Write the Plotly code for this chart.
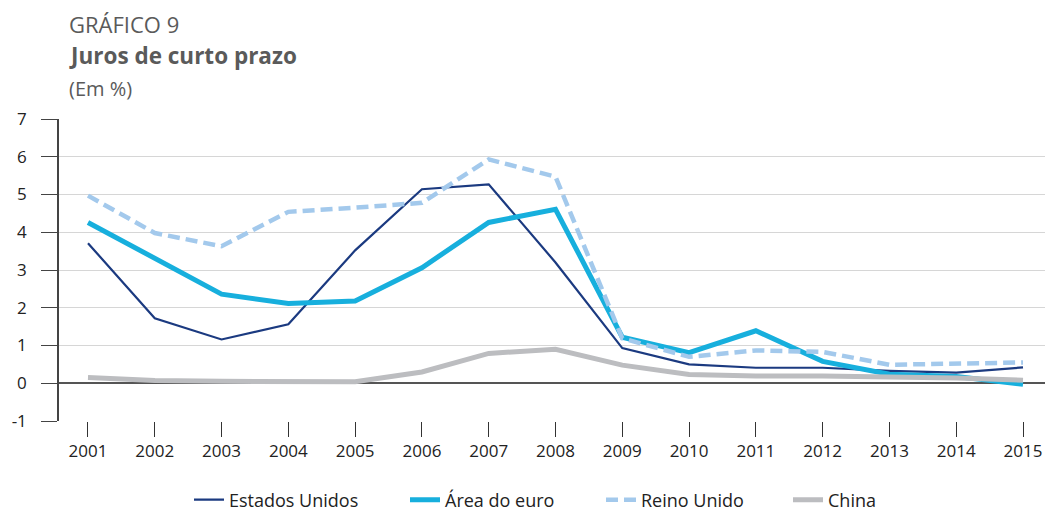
import plotly.graph_objects as go

years = list(range(2001, 2016))
estados_unidos = [3.71, 1.72, 1.16, 1.56, 3.52, 5.14, 5.27, 3.2, 0.93, 0.50, 0.41, 0.41, 0.33, 0.28, 0.42]
area_euro = [4.26, 3.32, 2.36, 2.11, 2.18, 3.06, 4.26, 4.61, 1.22, 0.81, 1.39, 0.58, 0.24, 0.18, -0.03]
reino_unido = [4.97, 3.98, 3.63, 4.54, 4.65, 4.78, 5.93, 5.47, 1.19, 0.70, 0.87, 0.83, 0.49, 0.52, 0.55]
china = [0.15, 0.07, 0.05, 0.04, 0.04, 0.30, 0.79, 0.90, 0.48, 0.23, 0.19, 0.19, 0.17, 0.14, 0.08]
y_ticks = list(range(-1, 8))
y_ticktext = [str(v) for v in y_ticks]
series_names = ["Estados Unidos", "Área do euro", "Reino Unido", "China"]
series_values = [estados_unidos, area_euro, reino_unido, china]

FONT = "Open Sans"
OFF = 8  # page body margin
W, H = 1053 - OFF, 513 - OFF

styles = [
    dict(color="#1b3a80", width=2.2),
    dict(color="#17afdd", width=5),
    dict(color="#a3c9ec", width=4.5, dash="12px,6px"),
    dict(color="#bcbdc0", width=5),
]
legend_ids = ["legend", "legend2", "legend3", "legend4"]
legend_left_px = [189, 405, 601, 788]

fig = go.Figure()
for name, vals, st, lg in zip(series_names, series_values, styles, legend_ids):
    fig.add_trace(go.Scatter(x=years, y=vals, name=name, mode="lines", line=st, legend=lg))

top, bottom, left = 119 - OFF, 421 - OFF, 59 - OFF
legend_common = dict(orientation="h", xref="container", xanchor="left",
                     yref="container", y=1 - (500 - OFF) / H, yanchor="middle",
                     font=dict(size=18, color="#222"), itemwidth=30,
                     borderwidth=0, bgcolor="rgba(0,0,0,0)")
layout_legends = {lg: dict(legend_common, x=(px - OFF) / W) for lg, px in zip(legend_ids, legend_left_px)}

fig.update_layout(
    width=W, height=H,
    margin=dict(l=left, r=1, t=top, b=H - bottom),
    paper_bgcolor="white", plot_bgcolor="white",
    font=dict(family=FONT, size=17, color="#222"),
    showlegend=True,
    **layout_legends,
)
fig.update_xaxes(range=[2000.566, 2015.434], tickmode="array", tickvals=years,
                 ticktext=[str(y) for y in years], showgrid=False, zeroline=False,
                 ticks="outside", ticklen=15, tickcolor="#333", tickwidth=1.3,
                 showline=False, tickfont=dict(size=17, color="#222"))
fig.update_yaxes(range=[-1, 7], tickmode="array", tickvals=y_ticks, ticktext=y_ticktext,
                 showgrid=True, gridcolor="#d6d6d6", gridwidth=1.3,
                 zeroline=True, zerolinecolor="#555", zerolinewidth=2,
                 showline=True, linecolor="#444", linewidth=1.5,
                 ticks="outside", ticklen=16, tickcolor="#444", tickwidth=1.3,
                 ticklabelstandoff=11,
                 tickfont=dict(size=17, color="#222"))

def py(p):
    return (bottom - (p - OFF)) / (bottom - top)

tx = (67 - 59) / (W - left - 1)
fig.add_annotation(text="GRÁFICO 9", xref="paper", yref="paper", x=tx, y=py(24),
                   xanchor="left", yanchor="middle", showarrow=False,
                   font=dict(family=FONT, size=22, color="#5a5a5a"))
fig.add_annotation(text="<b>Juros de curto prazo</b>", xref="paper", yref="paper", x=tx, y=py(56),
                   xanchor="left", yanchor="middle", showarrow=False,
                   font=dict(family=FONT, size=22.5, color="#5a5a5a"))
fig.add_annotation(text="(Em %)", xref="paper", yref="paper", x=tx, y=py(88),
                   xanchor="left", yanchor="middle", showarrow=False,
                   font=dict(family=FONT, size=20, color="#5a5a5a"))

fig.write_html("out.html")
